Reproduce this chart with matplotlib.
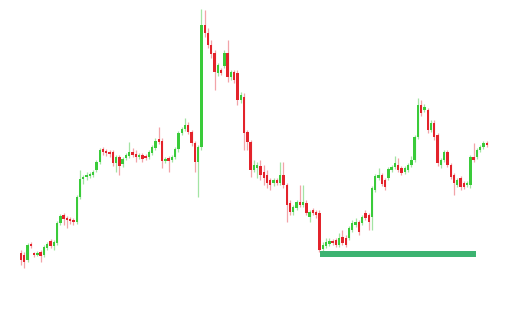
import numpy as np
import matplotlib
matplotlib.use("Agg")
import matplotlib.pyplot as plt

# candle data (open, close, high, low)
opens = [47, 45, 40, 56, 47, 45, 48, 45, 52, 59, 54, 57, 77, 85, 82, 81, 80, 78, 103, 121,
         123, 124, 125, 130, 138, 151, 149, 148, 148, 137, 143, 136, 142, 144, 148, 146, 143, 145, 144, 143,
         147, 152, 161, 159, 139, 142, 140, 143, 151, 167, 171, 175, 168, 157, 138, 153, 275, 267, 255, 247,
         227, 230, 234, 247, 223, 228, 227, 200, 203, 168, 158, 130, 132, 134, 128, 125, 120, 117, 120, 117,
         125, 115, 97, 88, 92, 98, 95, 97, 83, 90, 88, 87, 51, 54, 56, 59, 60, 55, 63, 62,
         62, 70, 75, 78, 77, 87, 85, 83, 110, 122, 125, 120, 122, 130, 133, 135, 132, 128, 130, 135,
         140, 163, 195, 190, 190, 170, 177, 165, 135, 140, 148, 135, 125, 115, 122, 117, 115, 115, 143, 143,
         150, 153, 157]
closes = [40, 38, 55, 54, 45, 47, 44, 53, 56, 54, 58, 77, 84, 81, 80, 79, 78, 103, 121, 123,
          125, 126, 128, 138, 150, 148, 147, 146, 137, 143, 134, 141, 145, 148, 145, 143, 145, 141, 142, 148,
          153, 159, 158, 139, 141, 139, 143, 151, 167, 171, 175, 168, 157, 138, 153, 275, 267, 255, 246, 228,
          235, 227, 247, 223, 228, 220, 200, 205, 167, 158, 130, 135, 135, 125, 122, 117, 115, 120, 117, 125,
          115, 95, 88, 93, 98, 95, 98, 87, 88, 87, 85, 50, 55, 58, 59, 57, 55, 62, 57, 55,
          72, 77, 78, 68, 83, 82, 78, 112, 124, 125, 116, 113, 131, 133, 137, 130, 127, 132, 135, 140,
          163, 195, 187, 193, 170, 177, 163, 137, 140, 148, 135, 123, 117, 120, 113, 113, 117, 143, 140, 150,
          153, 157, 155]
highs = [50, 48, 57, 58, 48, 49, 50, 55, 58, 61, 60, 79, 86, 87, 84, 83, 82, 105, 130, 125,
         128, 128, 130, 140, 152, 153, 151, 150, 150, 145, 145, 143, 147, 158, 152, 150, 147, 147, 146, 150,
         155, 162, 173, 162, 143, 144, 145, 153, 169, 173, 182, 178, 170, 159, 155, 291, 290, 272, 260, 250,
         237, 232, 250, 260, 230, 230, 230, 208, 207, 170, 160, 140, 138, 140, 135, 130, 122, 122, 122, 138,
         138, 117, 100, 95, 100, 115, 115, 100, 90, 92, 90, 90, 58, 62, 62, 61, 62, 67, 70, 65,
         74, 80, 82, 80, 85, 90, 87, 114, 126, 132, 127, 122, 133, 135, 144, 142, 134, 134, 137, 144,
         165, 202, 200, 196, 192, 180, 180, 167, 142, 150, 150, 137, 127, 122, 124, 119, 119, 145, 157, 152,
         155, 159, 159]
lows = [35, 32, 38, 52, 43, 44, 38, 43, 50, 52, 50, 55, 75, 75, 72, 76, 75, 76, 101, 116,
        120, 122, 123, 128, 136, 145, 144, 143, 134, 128, 125, 133, 140, 142, 143, 138, 141, 138, 140, 141,
        145, 150, 156, 132, 137, 128, 138, 141, 148, 165, 169, 166, 154, 128, 103, 150, 263, 252, 242, 210,
        224, 225, 232, 218, 220, 217, 195, 197, 150, 150, 123, 128, 122, 120, 115, 112, 110, 114, 115, 115,
        112, 78, 85, 85, 90, 93, 93, 85, 78, 85, 82, 48, 49, 52, 54, 55, 53, 53, 55, 53,
        60, 68, 73, 65, 75, 80, 70, 70, 108, 120, 114, 110, 120, 128, 131, 128, 125, 126, 128, 133,
        138, 161, 184, 188, 167, 168, 160, 134, 132, 138, 133, 121, 105, 113, 110, 111, 113, 112, 138, 141,
        148, 151, 153]

# support zone
zone_start = 91.3
zone_end = 138.6
zone_low = 43
zone_high = 49

green = "#3acb3a"
red = "#e3232b"
green_wick = "#a3e4a3"
red_wick = "#f2a3a8"

o = np.array(opens, dtype=float)
c = np.array(closes, dtype=float)
h = np.array(highs, dtype=float)
l = np.array(lows, dtype=float)
x = np.arange(len(o))
up = c >= o

fig = plt.figure(figsize=(5.14, 3.32), dpi=100)
ax = fig.add_axes([0, 0, 1, 1])

#wicks
ax.vlines(x[up], l[up], h[up], color=green_wick, lw=0.9, zorder=1)
ax.vlines(x[~up], l[~up], h[~up], color=red_wick, lw=0.9, zorder=1)

#bodies
body_lo = np.minimum(o, c)
body_h = np.maximum(np.abs(c - o), 1.2)
ax.bar(x[up], body_h[up], bottom=body_lo[up], width=0.72, color=green, lw=0, zorder=2)
ax.bar(x[~up], body_h[~up], bottom=body_lo[~up], width=0.72, color=red, lw=0, zorder=2)

#zone bar
ax.fill_between([zone_start, zone_end], zone_low, zone_high, color="#3cb371", lw=0, zorder=3)

ax.set_xlim(-6.4, 150.3)
ax.set_ylim(-32, 300)
ax.axis("off")

fig.savefig("out.png", dpi=100, facecolor="white")
